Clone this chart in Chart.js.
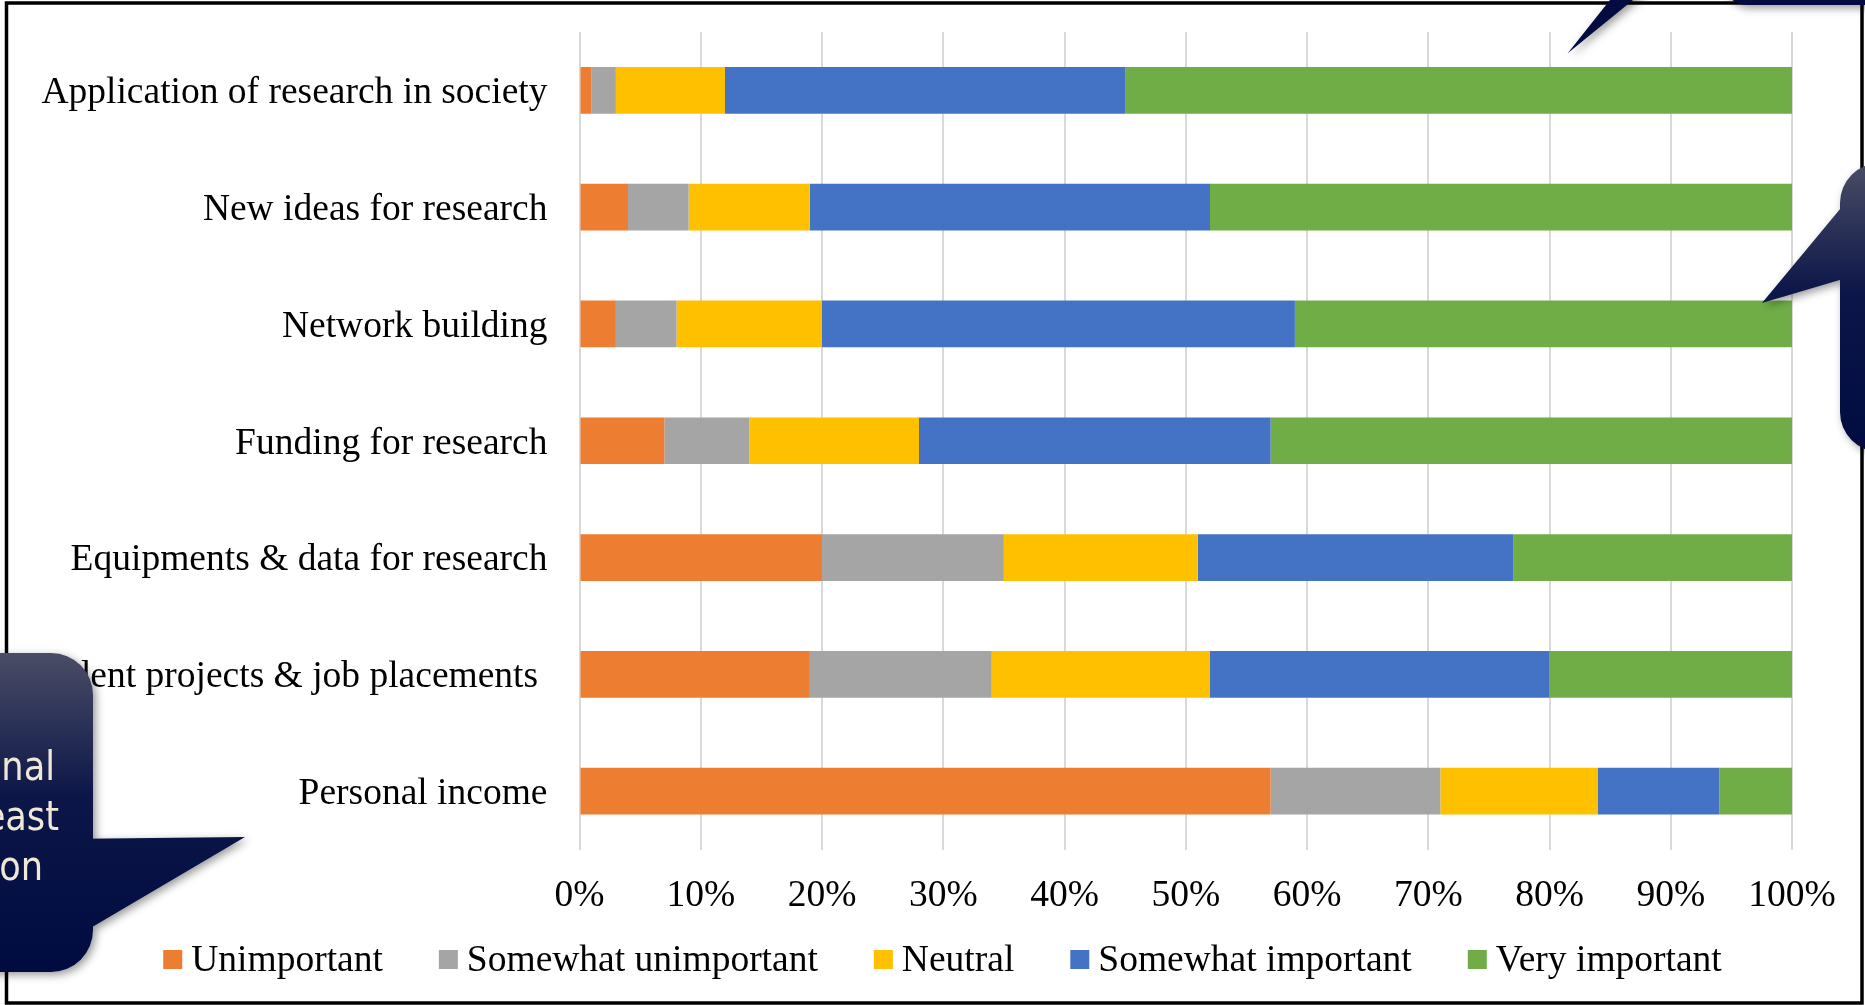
<!DOCTYPE html>
<html>
<head>
<meta charset="utf-8">
<script src="https://cdn.jsdelivr.net/npm/chart.js@4.4.1/dist/chart.umd.min.js"></script>
<style>
  html, body { margin: 0; padding: 0; background: #ffffff; }
  #wrap { position: absolute; left: 0; top: 0; width: 1865px; height: 1005px; }
</style>
</head>
<body>
<div id="wrap"><canvas id="c" width="1865" height="1005"></canvas></div>
<script>
// ---- data ----
const categories = [
  "Application of research in society",
  "New ideas for research",
  "Network building",
  "Funding for research",
  "Equipments & data for research",
  "Student projects & job placements ",
  "Personal income"
];
const seriesNames = ["Unimportant", "Somewhat unimportant", "Neutral", "Somewhat important", "Very important"];
const unimportant         = [1, 4, 3, 7, 20, 19, 57];
const somewhatUnimportant = [2, 5, 5, 7, 15, 15, 14];
const neutral             = [9, 10, 12, 14, 16, 18, 13];
const somewhatImportant   = [33, 33, 39, 29, 26, 28, 10];
const veryImportant       = [55, 48, 41, 43, 23, 20, 6];
const xTickValues = [0, 10, 20, 30, 40, 50, 60, 70, 80, 90, 100];
const calloutLines = ["nal", "east", "on"];

// ---- styles ----
const seriesColors = ["#ED7D31", "#A5A5A5", "#FFC000", "#4472C4", "#70AD47"];
const serif = '"Liberation Serif", "Times New Roman", serif';
const FS = 37.5;

const seriesValues = [unimportant, somewhatUnimportant, neutral, somewhatImportant, veryImportant];
const datasets = seriesNames.map((name, i) => ({
  label: name,
  data: seriesValues[i],
  backgroundColor: seriesColors[i],
  borderWidth: 0,
  barPercentage: 0.4,
  categoryPercentage: 1.0
}));

function navyGradient(ctx, y0, y1) {
  const g = ctx.createLinearGradient(0, y0, 0, y1);
  g.addColorStop(0, "#4a4d66");
  g.addColorStop(0.45, "#0c1648");
  g.addColorStop(1, "#000b40");
  return g;
}
function addRoundRect(ctx, x, y, w, h, r) {
  ctx.moveTo(x + r, y);
  ctx.lineTo(x + w - r, y);
  ctx.arcTo(x + w, y, x + w, y + r, r);
  ctx.lineTo(x + w, y + h - r);
  ctx.arcTo(x + w, y + h, x + w - r, y + h, r);
  ctx.lineTo(x + r, y + h);
  ctx.arcTo(x, y + h, x, y + h - r, r);
  ctx.lineTo(x, y + r);
  ctx.arcTo(x, y, x + r, y, r);
  ctx.closePath();
}

const overlay = {
  id: "overlay",
  afterDraw(chart) {
    const ctx = chart.ctx;
    ctx.save();
    // ---- legend (from datasets) ----
    ctx.font = FS + "px " + serif;
    ctx.textBaseline = "alphabetic";
    ctx.textAlign = "left";
    const box = 19, gapBoxText = 9, gapItems = 56;
    const items = chart.data.datasets.map(d => ({ text: d.label, color: d.backgroundColor, w: ctx.measureText(d.label).width }));
    let total = 0;
    items.forEach((it, i) => { total += box + gapBoxText + it.w + (i < items.length - 1 ? gapItems : 0); });
    let x = 942.5 - total / 2;
    items.forEach(it => {
      ctx.fillStyle = it.color;
      ctx.fillRect(x, 950, box, box);
      ctx.fillStyle = "#000000";
      ctx.fillText(it.text, x + box + gapBoxText, 970.5);
      x += box + gapBoxText + it.w + gapItems;
    });

    // ---- frame ----
    ctx.strokeStyle = "#000000";
    ctx.lineWidth = 3.5;
    ctx.strokeRect(6.5, 3, 1855.5, 1000);

    // ---- callouts ----
    ctx.shadowColor = "rgba(0,0,0,0.4)";
    ctx.shadowBlur = 8;
    ctx.shadowOffsetX = 3;
    ctx.shadowOffsetY = 3;

    // left callout
    ctx.beginPath();
    addRoundRect(ctx, -60, 653, 153, 319, 42);
    ctx.moveTo(245, 837);
    ctx.lineTo(60, 946);
    ctx.lineTo(60, 839);
    ctx.closePath();
    ctx.fillStyle = navyGradient(ctx, 653, 972);
    ctx.fill();

    // right callout
    ctx.beginPath();
    addRoundRect(ctx, 1840, 163, 120, 289, 40);
    ctx.moveTo(1762, 303);
    ctx.lineTo(1880, 161);
    ctx.lineTo(1880, 268);
    ctx.closePath();
    ctx.fillStyle = navyGradient(ctx, 163, 452);
    ctx.fill();

    // top callout (body above the canvas)
    ctx.beginPath();
    addRoundRect(ctx, 1723, -200, 300, 205, 24);
    ctx.moveTo(1567.7, 53.3);
    ctx.lineTo(1633.8, -30);
    ctx.lineTo(1669.8, -30);
    ctx.closePath();
    ctx.fillStyle = "#020c40";
    ctx.fill();

    // left callout text
    ctx.shadowColor = "transparent";
    ctx.shadowBlur = 0;
    ctx.shadowOffsetX = 0;
    ctx.shadowOffsetY = 0;
    ctx.font = '40px Tahoma, "DejaVu Sans", sans-serif';
    ctx.fillStyle = "#efe8d8";
    ctx.textAlign = "right";
    const rights = [55, 59, 43];
    const bases = [780, 830, 880];
    calloutLines.forEach((t, i) => {
      ctx.save();
      ctx.translate(rights[i], bases[i]);
      ctx.scale(0.88, 1);
      ctx.fillText(t, 0, 0);
      ctx.restore();
    });
    ctx.restore();
  }
};

new Chart(document.getElementById("c"), {
  type: "bar",
  data: { labels: categories, datasets: datasets },
  options: {
    indexAxis: "y",
    responsive: false,
    animation: false,
    devicePixelRatio: 1,
    layout: { padding: { left: 0, right: 73, top: 32, bottom: 85.5 } },
    plugins: { legend: { display: false }, tooltip: { enabled: false } },
    scales: {
      x: {
        stacked: true,
        min: 0,
        max: 100,
        afterBuildTicks: (scale) => { scale.ticks = xTickValues.map(v => ({ value: v })); },
        ticks: {
          callback: (v) => v + "%",
          color: "#000000",
          font: { family: serif, size: FS },
          padding: 24,
          maxRotation: 0,
          autoSkip: false
        },
        grid: { color: "#d9d9d9", lineWidth: 2, drawTicks: false },
        border: { display: false },
        afterFit: (scale) => { scale.height = 70; scale.paddingLeft = 0; scale.paddingRight = 0; }
      },
      y: {
        stacked: true,
        grid: { display: false, drawTicks: false },
        border: { display: false },
        ticks: {
          color: "#000000",
          font: { family: serif, size: FS },
          padding: 32,
          labelOffset: 3,
          autoSkip: false
        },
        afterFit: (scale) => { scale.width = 579.5; scale.paddingTop = 0; scale.paddingBottom = 0; }
      }
    }
  },
  plugins: [overlay]
});
</script>
</body>
</html>
